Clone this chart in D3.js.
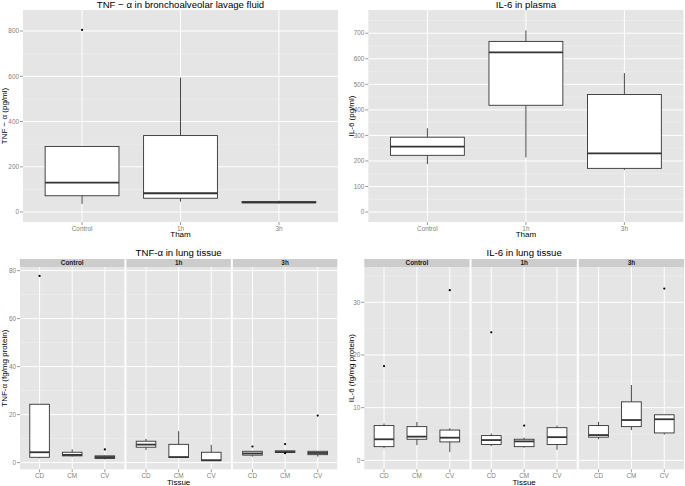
<!DOCTYPE html>
<html><head><meta charset="utf-8">
<script src="https://cdn.jsdelivr.net/npm/d3@7"></script>
<style>body{margin:0;background:#fff}svg{display:block;font-family:"Liberation Sans",Arial,sans-serif}</style>
</head><body>
<script>
// ---------- DATA ----------
const balGroups = ["Control", "1h", "3h"];
// [lower whisker, q1, median, q3, upper whisker]
const balTnfStats = [[36, 72, 130, 290, 290], [46, 61, 83, 338, 594], [38, 41, 43, 46, 50]];
const balTnfOutliers = [[805], [], []];
const balTnfDomain = [-44, 893];
const balTnfTicks = [0, 200, 400, 600, 800];

const plasmaIl6Stats = [[188, 222, 256, 293, 328], [214, 418, 625, 668, 711], [165, 171, 230, 460, 544]];
const plasmaIl6Outliers = [[], [], []];
const plasmaIl6Domain = [-39, 791];
const plasmaIl6Ticks = [0, 100, 200, 300, 400, 500, 600, 700];

const timepoints = ["Control", "1h", "3h"];
const tissues = ["CD", "CM", "CV"];
const lungTnfStats = [
  [[1.8, 2.2, 4.3, 24.3, 24.3], [2.5, 2.8, 3.2, 4.3, 5.5], [1.3, 1.7, 2.3, 2.8, 3.0]],
  [[5.2, 6.4, 7.5, 8.9, 9.9], [2.0, 2.1, 2.3, 7.6, 13.1], [0.6, 0.8, 1.0, 4.3, 7.4]],
  [[2.5, 3.1, 3.8, 4.7, 4.7], [4.2, 4.2, 4.4, 4.9, 4.9], [2.5, 3.3, 4.0, 4.7, 4.7]]
];
const lungTnfOutliers = [[[77.8], [], [5.5]], [[], [], []], [[6.7], [7.7, 3.9], [19.6]]];
const lungTnfDomain = [-2.8, 81.5];
const lungTnfTicks = [0, 20, 40, 60, 80];

const lungIl6Stats = [
  [[2.3, 2.6, 4.0, 6.6, 7.0], [2.9, 4.0, 4.5, 6.4, 7.3], [1.6, 3.5, 4.3, 5.75, 6.1]],
  [[2.7, 3.0, 3.85, 4.7, 5.1], [2.4, 2.6, 3.6, 4.0, 4.3], [2.0, 3.0, 4.4, 6.2, 6.6]],
  [[4.0, 4.4, 4.8, 6.6, 7.3], [5.75, 6.4, 7.65, 11.1, 14.3], [4.9, 5.2, 7.8, 8.65, 8.65]]
];
const lungIl6Outliers = [[[17.9], [], [32.3]], [[24.3], [6.6], []], [[], [], [32.6]]];
const lungIl6Domain = [-1.7, 36.7];
const lungIl6Ticks = [0, 10, 20, 30];

// ---------- STYLE ----------
const W = 685, H = 486;
const BG = "#E5E5E5", MINOR = "#F2F2F2", AXC = "#7F7F7F", BOXC = "#333333", STRIP = "#CCCCCC";
const svg = d3.select("body").append("svg").attr("width", W).attr("height", H);

function minorBreaks(ticks, dom) {
  const step = ticks[1] - ticks[0], out = [];
  for (let v = ticks[0] - step / 2; v <= dom[1]; v += step) if (v >= dom[0]) out.push(v);
  return out;
}

function drawYAxis(g, y, x0, ticks) {
  ticks.forEach(t => {
    g.append("line").attr("x1", x0 - 3).attr("x2", x0).attr("y1", y(t)).attr("y2", y(t))
      .attr("stroke", AXC).attr("stroke-width", 0.8);
    g.append("text").attr("x", x0 - 4).attr("y", y(t)).attr("dy", "0.35em").attr("text-anchor", "end")
      .attr("font-size", 6.4).attr("fill", AXC).text(t);
  });
}

// one panel with boxes
function drawBoxes(g, opt) {
  const { x0, x1, y0, y1, cats, stats, outliers, y, ticks, domain, widthFrac, axisY } = opt;
  const x = d3.scalePoint().domain(cats).range([x0, x1]).padding(0.6);
  g.append("rect").attr("x", x0).attr("y", y0).attr("width", x1 - x0).attr("height", y1 - y0).attr("fill", BG);
  minorBreaks(ticks, domain).forEach(v => g.append("line").attr("x1", x0).attr("x2", x1)
    .attr("y1", y(v)).attr("y2", y(v)).attr("stroke", MINOR).attr("stroke-width", 0.5));
  ticks.forEach(v => g.append("line").attr("x1", x0).attr("x2", x1)
    .attr("y1", y(v)).attr("y2", y(v)).attr("stroke", "#fff").attr("stroke-width", 1));
  cats.forEach(c => g.append("line").attr("x1", x(c)).attr("x2", x(c))
    .attr("y1", y0).attr("y2", y1).attr("stroke", "#fff").attr("stroke-width", 1));
  const bw = x.step() * widthFrac;
  cats.forEach((c, i) => {
    const s = stats[i], cx = x(c);
    g.append("line").attr("x1", cx).attr("x2", cx).attr("y1", y(s[3])).attr("y2", y(s[4]))
      .attr("stroke", BOXC).attr("stroke-width", 0.9);
    g.append("line").attr("x1", cx).attr("x2", cx).attr("y1", y(s[1])).attr("y2", y(s[0]))
      .attr("stroke", BOXC).attr("stroke-width", 0.9);
    g.append("rect").attr("x", cx - bw / 2).attr("y", y(s[3])).attr("width", bw)
      .attr("height", Math.max(0.01, y(s[1]) - y(s[3]))).attr("fill", "#fff")
      .attr("stroke", BOXC).attr("stroke-width", 0.9);
    g.append("line").attr("x1", cx - bw / 2).attr("x2", cx + bw / 2).attr("y1", y(s[2])).attr("y2", y(s[2]))
      .attr("stroke", BOXC).attr("stroke-width", 1.8);
    (outliers[i] || []).forEach(o => g.append("circle").attr("cx", cx).attr("cy", y(o)).attr("r", 1.1).attr("fill", "#000"));
  });
  // x ticks
  cats.forEach(c => {
    g.append("line").attr("x1", x(c)).attr("x2", x(c)).attr("y1", y1).attr("y2", y1 + 3)
      .attr("stroke", AXC).attr("stroke-width", 0.8);
    g.append("text").attr("x", x(c)).attr("y", y1 + 8.5).attr("text-anchor", "middle")
      .attr("font-size", 6.4).attr("fill", AXC).text(c);
  });
  if (axisY) drawYAxis(g, y, x0, ticks);
}

function title(g, x, yy, t, size) {
  g.append("text").attr("x", x).attr("y", yy).attr("text-anchor", "middle")
    .attr("font-size", size).attr("fill", "#000").text(t);
}
function yTitle(g, x, yy, t) {
  g.append("text").attr("transform", `translate(${x},${yy}) rotate(-90)`).attr("text-anchor", "middle")
    .attr("font-size", 8).attr("fill", "#000").text(t);
}

// ---------- TOP LEFT ----------
{
  const g = svg.append("g");
  const P = { x0: 23, x1: 338, y0: 10, y1: 222 };
  const y = d3.scaleLinear().domain(balTnfDomain).range([P.y1, P.y0]);
  drawBoxes(g, { ...P, cats: balGroups, stats: balTnfStats, outliers: balTnfOutliers, y, ticks: balTnfTicks, domain: balTnfDomain, widthFrac: 0.75, axisY: true });
  title(g, (P.x0 + P.x1) / 2, 7.5, "TNF \u2212 \u03b1 in bronchoalveolar lavage fluid", 9.6);
  title(g, (P.x0 + P.x1) / 2, 237, "Tham", 8);
  yTitle(g, 7, (P.y0 + P.y1) / 2, "TNF \u2212 \u03b1 (pg/ml)");
}
// ---------- TOP RIGHT ----------
{
  const g = svg.append("g");
  const P = { x0: 368.3, x1: 683.5, y0: 10, y1: 222 };
  const y = d3.scaleLinear().domain(plasmaIl6Domain).range([P.y1, P.y0]);
  drawBoxes(g, { ...P, cats: balGroups, stats: plasmaIl6Stats, outliers: plasmaIl6Outliers, y, ticks: plasmaIl6Ticks, domain: plasmaIl6Domain, widthFrac: 0.75, axisY: true });
  title(g, (P.x0 + P.x1) / 2, 7.5, "IL-6 in plasma", 9.6);
  title(g, (P.x0 + P.x1) / 2, 237, "Tham", 8);
  yTitle(g, 353.5, (P.y0 + P.y1) / 2, "IL-6 (pg/ml)");
}
// ---------- FACETED ----------
function facetPanel(P, stats, outliers, domain, ticks, t, yLab, yLabX) {
  const g = svg.append("g");
  const y = d3.scaleLinear().domain(domain).range([P.y1, P.y0]);
  const fx = d3.scaleBand().domain(timepoints).range([P.x0, P.x1]).paddingInner(0.019);
  timepoints.forEach((tp, k) => {
    const a = fx(tp), b = a + fx.bandwidth();
    g.append("rect").attr("x", a).attr("y", P.sy).attr("width", b - a).attr("height", P.y0 - P.sy).attr("fill", STRIP);
    g.append("text").attr("x", (a + b) / 2).attr("y", P.sy + 6).attr("text-anchor", "middle")
      .attr("font-size", 6.4).attr("font-weight", "bold").attr("fill", "#1a1a1a").text(tp);
    drawBoxes(g, { x0: a, x1: b, y0: P.y0, y1: P.y1, cats: tissues, stats: stats[k], outliers: outliers[k], y, ticks, domain, widthFrac: 0.6, axisY: k === 0 });
  });
  title(g, (P.x0 + P.x1) / 2, 256, t, 9.6);
  title(g, (P.x0 + P.x1) / 2, 485, "Tissue", 8);
  yTitle(g, yLabX, (P.y0 + P.y1) / 2, yLab);
}
facetPanel({ x0: 20, x1: 337.3, sy: 259, y0: 267, y1: 469.3 }, lungTnfStats, lungTnfOutliers, lungTnfDomain, lungTnfTicks,
  "TNF-\u03b1 in lung tissue", "TNF-\u03b1 (fg/mg protein)", 7);
facetPanel({ x0: 364.3, x1: 684, sy: 259, y0: 267, y1: 469.3 }, lungIl6Stats, lungIl6Outliers, lungIl6Domain, lungIl6Ticks,
  "IL-6 in lung tissue", "IL-6 (fg/mg protein)", 354);
</script>
</body></html>
